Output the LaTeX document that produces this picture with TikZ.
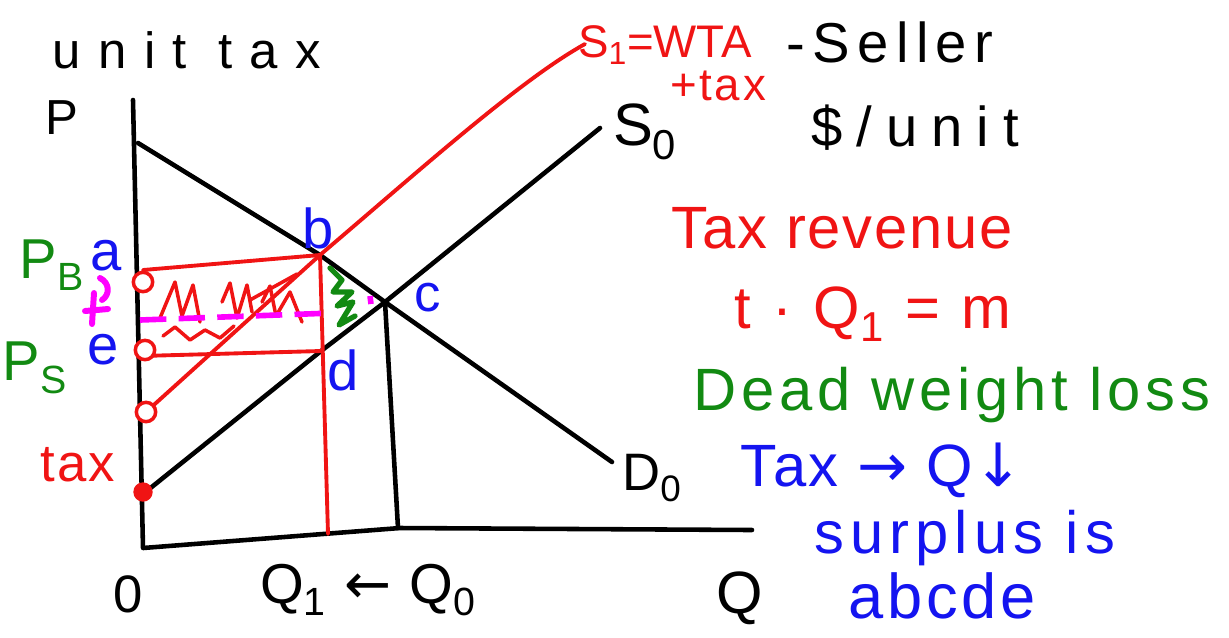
\documentclass[tikz,border=0pt]{standalone}
\usepackage{fontspec}
\newfontfamily\handfont{Liberation Sans}
\newfontfamily\arrowfont{DejaVu Sans}
\usepackage{tikz}
\usetikzlibrary{positioning,calc}
\definecolor{inkred}{HTML}{F01414}
\definecolor{inkgreen}{HTML}{128A12}
\definecolor{inkblue}{HTML}{1414F0}
\definecolor{inkpink}{HTML}{FF00FF}

\begin{document}
\begin{tikzpicture}[
  x=0.02cm,y=-0.02cm,
  ink/.style={line width=2.6pt,line cap=round,line join=round},
  taxink/.style={ink,color=inkred,line width=2.2pt},
  scribble/.style={line width=2pt,line cap=round,line join=round},
  pinkdash/.style={line width=3.2pt,color=inkpink,dash pattern=on 15pt off 7pt},
  axisdot/.style={circle,draw=inkred,line width=2pt,fill=white,inner sep=0pt,minimum size=11pt},
  hand/.style 2 args={font={\handfont\fontsize{#1}{#1}\selectfont\addfontfeature{LetterSpace=#2}},inner sep=0pt}
]
\useasboundingbox (0,0) rectangle (1229,637);

\coordinate (ytop) at (133,100);
\coordinate (orig) at (143,548);
\coordinate (xbend) at (400,528);
\coordinate (xend) at (752,530);
\coordinate (dtop) at (138,143);
\coordinate (b) at (320,255);
\coordinate (c) at (385,302);
\coordinate (d) at (321,351);
\coordinate (dend) at (612,462);
\coordinate (s0end) at (600,128);
\coordinate (s1end) at (585,44);
\coordinate (q1) at (328,534);
\coordinate (q0) at (398,528);
\coordinate (ra) at (143,270);
\coordinate (re) at (141,356);

\draw[ink] (ytop) -- (orig) -- (xbend) -- (xend);
\draw[ink] (dtop) -- (b) -- (c) -- (dend);
\draw[ink] (148,490) -- (d) -- (c) -- (s0end);
\draw[ink] (c) -- (q0);

\draw[taxink] (ra) -- (b);
\draw[taxink] (re) -- (d);
\draw[taxink] (b) -- (q1);
\draw[taxink] (146,412) -- (b) .. controls (420,170) and (520,80) .. (s1end);

\draw[scribble,inkred] (160,318) -- (175,282) -- (182,316) -- (193,285) -- (200,322)
  (222,302) -- (230,283) -- (237,318) -- (247,285) -- (252,312)
  (262,302) -- (270,286) -- (276,316) -- (290,292) -- (302,322)
  (163,336) -- (175,327) -- (190,340) -- (205,330) -- (220,338) -- (234,326)
  (250,300) -- (297,274);
\draw[scribble,inkgreen,line width=3pt] (330,268) -- (342,280) -- (333,292) -- (352,292)
  -- (337,306) -- (353,302) -- (339,325) -- (355,316);

\draw[pinkdash] (140,320) -- (333,313);
\draw[line width=3.2pt,inkpink] (370,296) -- (371,304);
\draw[ink,inkpink,line width=3.4pt] (85,311) -- (108,309) (94,293) -- (92,324)
  (100,278) .. controls (110,283) and (110,295) .. (102,300);

\node[axisdot] (pa) at (143,282) {};
\node[axisdot] (pe) at (145,350) {};
\node[axisdot] (pw) at (146,412) {};
\node[axisdot,fill=inkred,minimum size=9pt] (pt) at (143,492) {};

\node[hand={29}{34}] (title) at (187,50) {unit tax};
\node[hand={28}{0}] (plab) at (62,118) {P};
\node[hand={26}{0},inkred] (s1lab) at (665,45) {S\textsubscript{1}=WTA};
\node[hand={26}{6},inkred] (plustax) at (718,86) {+tax};
\node[hand={32}{13}] (seller) at (890,42) {-Seller};
\node[hand={32}{25}] (perunit) at (915,128) {\$/unit};
\node[hand={34}{0}] (s0lab) at (645,132) {S\textsubscript{0}};
\node[hand={34}{3},inkred] (revenue) at (842,228) {Tax revenue};
\node[hand={34}{8},inkred] (revform) at (873,314) {t · Q\textsubscript{1} = m};
\node[hand={34}{8},inkgreen] (dwlab) at (952,395) {Dead weight loss};
\node[hand={34}{4},inkblue] (taxq) at (882,470) {Tax {\arrowfont →} Q{\arrowfont ↓}};
\node[hand={34}{10},inkblue] (surplus) at (965,538) {surplus is};
\node[hand={36}{6},inkblue] (abcde) at (942,596) {abcde};
\node[hand={30}{0}] (d0lab) at (652,478) {D\textsubscript{0}};
\node[hand={34}{0}] (qlab) at (740,598) {Q};
\node[hand={30}{0}] (zero) at (128,594) {0};
\node[hand={32}{4}] (qshift) at (368,590) {Q\textsubscript{1} {\arrowfont ←} Q\textsubscript{0}};
\node[hand={32}{0},inkgreen] (pblab) at (52,265) {P\textsubscript{B}};
\node[hand={32}{0},inkgreen] (pslab) at (35,368) {P\textsubscript{S}};
\node[hand={30}{4},inkred] (taxlab) at (78,465) {tax};
\node[hand={32}{0},inkblue] (alab) at (106,256) {a};
\node[hand={32}{0},inkblue] (elab) at (103,350) {e};
\node[hand={32}{0},inkblue] (blab) at (318,228) {b};
\node[hand={30}{0},inkblue] (clab) at (428,298) {c};
\node[hand={32}{0},inkblue] (dlab) at (343,370) {d};
\end{tikzpicture}
\end{document}
